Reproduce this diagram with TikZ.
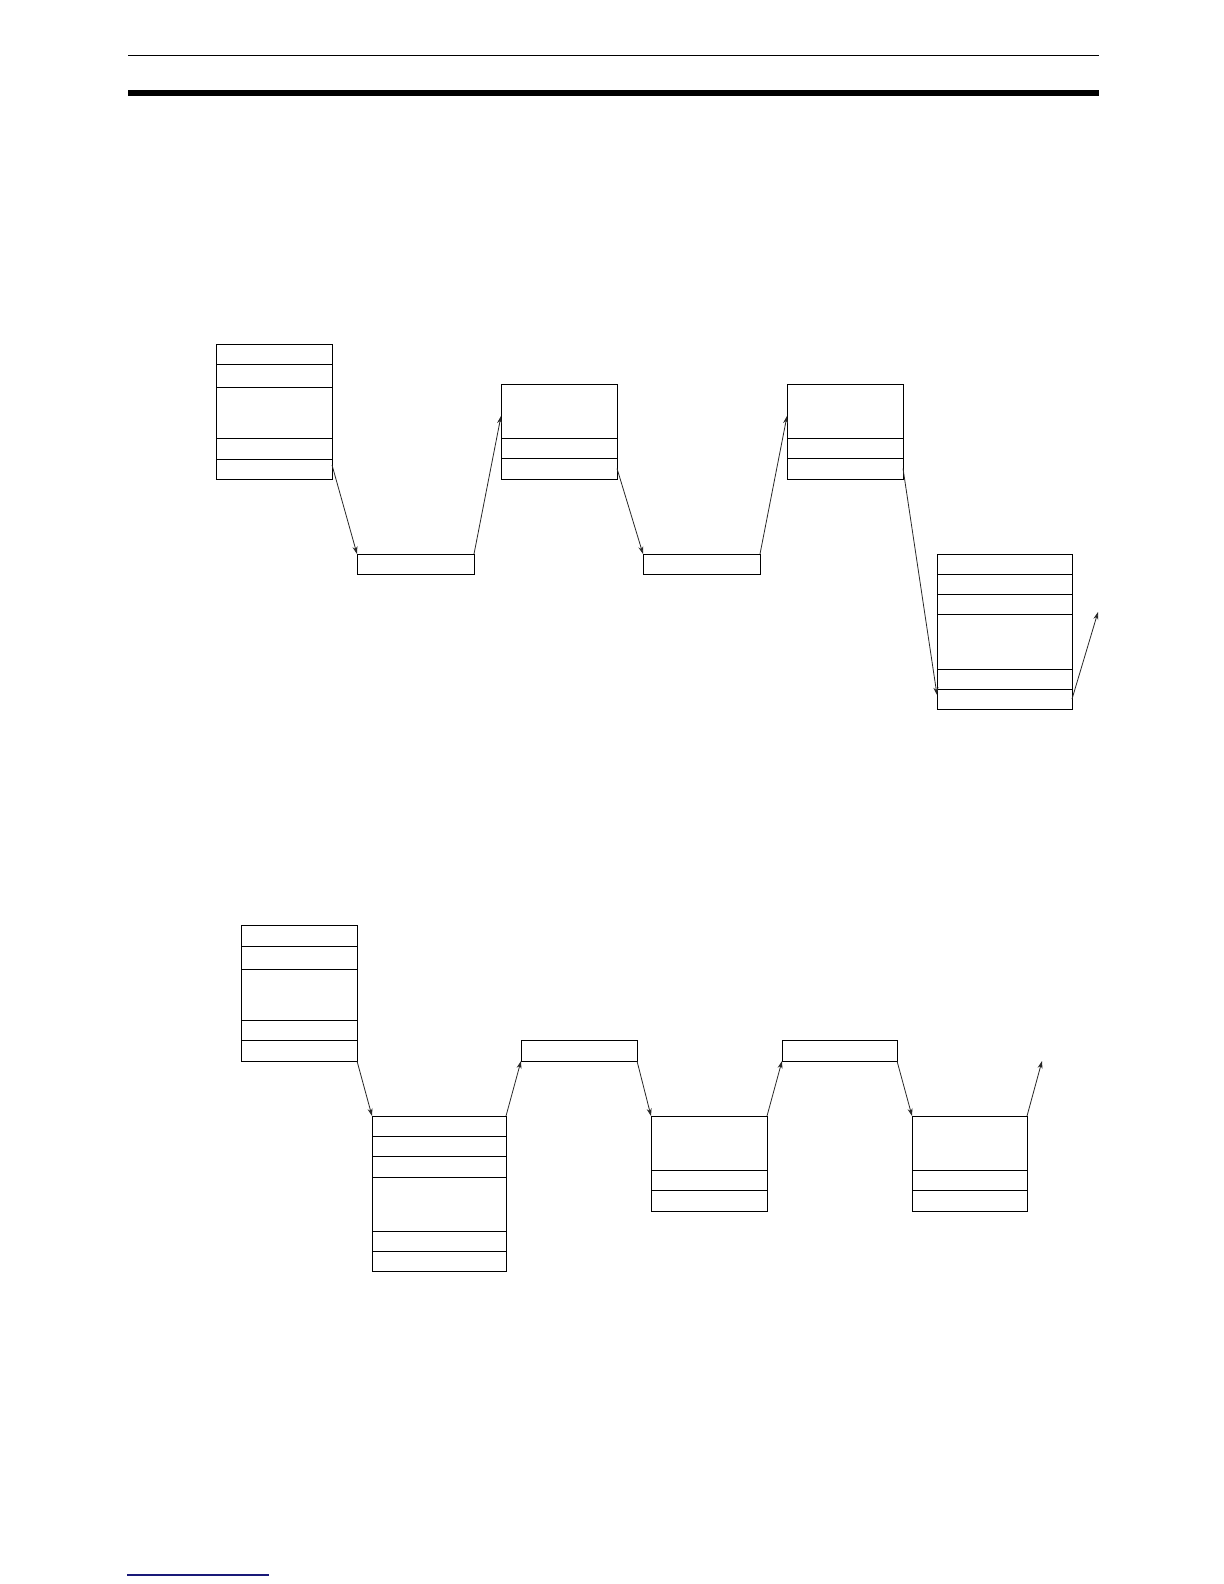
\documentclass[tikz,border=0pt]{standalone}
\usetikzlibrary{arrows.meta}
\definecolor{navyline}{RGB}{25,25,120}
\begin{document}
\begin{tikzpicture}[x=0.5pt,y=-0.5pt,
  cell/.style={draw, line width=0.5pt, inner sep=0pt, outer sep=0pt, anchor=north west, minimum width=#1},
  cell/.default=58pt,
  link/.style={draw=black!85, line width=0.4pt, -{Stealth[length=3.8pt,width=2.5pt]}, shorten >=0pt}]
\useasboundingbox (0,0) rectangle (1224,1584);
% header and footer rules
\draw[line width=0.6pt] (128,55.3) -- (1099,55.3);
\fill (128,90) rectangle (1099,96);
\draw[navyline, line width=0.7pt] (127,1575) -- (269,1575);

% ---------- upper chain ----------
% A1
\node[cell, minimum height=10pt]   (A1r1) at (216,344) {};
\node[cell, minimum height=11.5pt] (A1r2) at (216,364) {};
\node[cell, minimum height=25.5pt] (A1r3) at (216,387) {};
\node[cell, minimum height=10.5pt] (A1r4) at (216,438) {};
\node[cell, minimum height=10pt]   (A1r5) at (216,459) {};
% B1
\node[cell=58.5pt, minimum height=10pt] (B1) at (357,554) {};
% A2
\node[cell, minimum height=27pt]   (A2r1) at (501,384) {};
\node[cell, minimum height=10pt]   (A2r2) at (501,438) {};
\node[cell, minimum height=10.5pt] (A2r3) at (501,458) {};
% B2
\node[cell=58.5pt, minimum height=10pt] (B2) at (643,554) {};
% A3
\node[cell, minimum height=27pt]   (A3r1) at (787,384) {};
\node[cell, minimum height=10pt]   (A3r2) at (787,438) {};
\node[cell, minimum height=10.5pt] (A3r3) at (787,458) {};
% C1
\node[cell=67.5pt, minimum height=10pt]   (C1r1) at (937,554) {};
\node[cell=67.5pt, minimum height=10pt]   (C1r2) at (937,574) {};
\node[cell=67.5pt, minimum height=10pt]   (C1r3) at (937,594) {};
\node[cell=67.5pt, minimum height=27.5pt] (C1r4) at (937,614) {};
\node[cell=67.5pt, minimum height=10pt]   (C1r5) at (937,669) {};
\node[cell=67.5pt, minimum height=10pt]   (C1r6) at (937,689) {};
\coordinate (C1out) at (1098,612);

\draw[link] ([yshift=2pt]A1r5.east) -- (B1.north west);
\draw[link] (B1.north east) -- ([yshift=-2.5pt]A2r1.west);
\draw[link] (A2r3.east) -- (B2.north west);
\draw[link] (B2.north east) -- ([yshift=-2.5pt]A3r1.west);
\draw[link] (A3r3.east) -- ([yshift=2pt]C1r6.west);
\draw[link] (C1r6.east) -- (C1out);

% ---------- lower chain ----------
% D1
\node[cell, minimum height=10.5pt] (D1r1) at (241,925) {};
\node[cell, minimum height=11.5pt] (D1r2) at (241,946) {};
\node[cell, minimum height=25.5pt] (D1r3) at (241,969) {};
\node[cell, minimum height=10pt]   (D1r4) at (241,1020) {};
\node[cell, minimum height=10.5pt] (D1r5) at (241,1040) {};
% E1
\node[cell=67pt, minimum height=10pt]   (E1r1) at (372,1116) {};
\node[cell=67pt, minimum height=10pt]   (E1r2) at (372,1136) {};
\node[cell=67pt, minimum height=10.5pt] (E1r3) at (372,1156) {};
\node[cell=67pt, minimum height=27pt]   (E1r4) at (372,1177) {};
\node[cell=67pt, minimum height=10pt]   (E1r5) at (372,1231) {};
\node[cell=67pt, minimum height=10pt]   (E1r6) at (372,1251) {};
% F1
\node[cell, minimum height=10.5pt] (F1) at (521,1040) {};
% G1
\node[cell, minimum height=27pt]   (G1r1) at (651,1116) {};
\node[cell, minimum height=10pt]   (G1r2) at (651,1170) {};
\node[cell, minimum height=10.5pt] (G1r3) at (651,1190) {};
% F2
\node[cell=57.5pt, minimum height=10.5pt] (F2) at (782,1040) {};
% G2
\node[cell=57.5pt, minimum height=27pt]   (G2r1) at (912,1116) {};
\node[cell=57.5pt, minimum height=10pt]   (G2r2) at (912,1170) {};
\node[cell=57.5pt, minimum height=10.5pt] (G2r3) at (912,1190) {};
\coordinate (G2out) at (1042,1061);

\draw[link] (D1r5.south east) -- (E1r1.north west);
\draw[link] (E1r1.north east) -- (F1.south west);
\draw[link] (F1.south east) -- (G1r1.north west);
\draw[link] (G1r1.north east) -- (F2.south west);
\draw[link] (F2.south east) -- (G2r1.north west);
\draw[link] (G2r1.north east) -- (G2out);
\end{tikzpicture}
\end{document}
